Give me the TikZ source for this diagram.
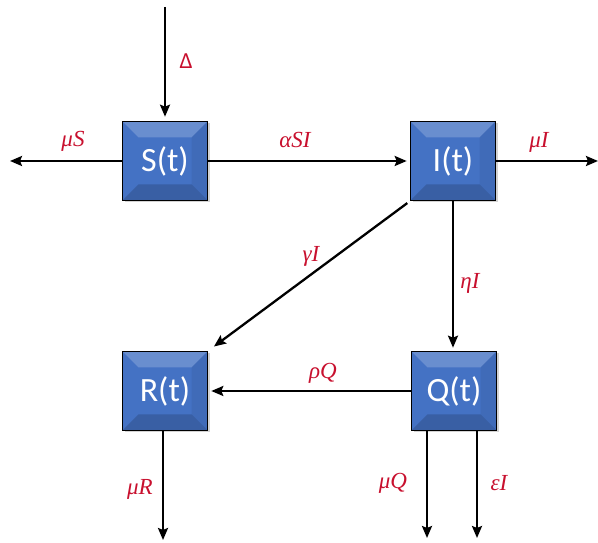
\documentclass[tikz,border=0pt]{standalone}
\usepackage{fontspec}
\usepackage{amsmath, amssymb}
\usetikzlibrary{arrows.meta, shadows}
\newfontfamily\caixafont{Carlito}
\newfontfamily\taxafont{Liberation Serif}
\definecolor{azul}{HTML}{4472C4}
\definecolor{vermelho}{HTML}{C8102E}

\begin{document}
\begin{tikzpicture}[x=1pt, y=1pt]
        \tikzstyle{caixa}=[draw=black, line width=1.6pt, fill=azul, minimum width=85pt, minimum height=79pt,
          text=white, font=\caixafont\fontsize{34}{36}\selectfont, drop shadow={opacity=0.35, shadow xshift=2pt, shadow yshift=-2pt},
          path picture={
            \fill[white, opacity=0.2] (path picture bounding box.north west) -- (path picture bounding box.north east)
              -- ([xshift=-16pt, yshift=-16pt]path picture bounding box.north east) -- ([xshift=16pt, yshift=-16pt]path picture bounding box.north west) -- cycle;
            \fill[black, opacity=0.16] (path picture bounding box.south west) -- (path picture bounding box.south east)
              -- ([xshift=-16pt, yshift=16pt]path picture bounding box.south east) -- ([xshift=16pt, yshift=16pt]path picture bounding box.south west) -- cycle;
            \fill[black, opacity=0.06] (path picture bounding box.north east) -- (path picture bounding box.south east)
              -- ([xshift=-16pt, yshift=16pt]path picture bounding box.south east) -- ([xshift=-16pt, yshift=-16pt]path picture bounding box.north east) -- cycle;
          }]
        \tikzstyle{seta}=[line width=2.3pt, -{Stealth[length=12pt, width=10pt, inset=2pt]}]
        \tikzstyle{taxa}=[text=vermelho, font=\taxafont\itshape\fontsize{23}{25}\selectfont]

        \useasboundingbox (0,0) rectangle (598,543);

        \node[caixa] (S) at (165,382) {S(t)};
        \node[caixa] (I) at (453,382) {I(t)};
        \node[caixa] (R) at (165,152) {R(t)};
        \node[caixa] (Q) at (454,152) {Q(t)};

        \coordinate (entrada) at (165,536);
        \coordinate (saidaS) at (10,382);
        \coordinate (saidaI) at (598,382);
        \coordinate (saidaR) at (163,3);
        \coordinate (saidaQ) at (427,5);
        \coordinate (saidaE) at (477,5);

        \draw[seta, shorten >=4pt] (entrada) -- (S.north);
        \draw[seta] (S.west) -- (saidaS);
        \draw[seta, shorten >=3pt] (S.east) -- (I.west);
        \draw[seta] (I.east) -- (saidaI);
        \draw[seta, shorten <=3pt, shorten >=7pt] (I.south west) -- (R.north east);
        \draw[seta, shorten >=3pt] (I.south) -- (I.south |- Q.north);
        \draw[seta, shorten >=3pt] (Q.west) -- (R.east);
        \draw[seta] (R.south -| saidaR) -- (saidaR);
        \draw[seta] (Q.south -| saidaQ) -- (saidaQ);
        \draw[seta] (Q.south -| saidaE) -- (saidaE);

        \node[taxa] (tDelta) at (186,482) {\caixafont\upshape Δ};
        \node[taxa] (tmuS) at (73,402) {μS};
        \node[taxa] (talfa) at (295,403) {αSI};
        \node[taxa] (tmuI) at (539,401) {μI};
        \node[taxa] (tgama) at (311,287) {γI};
        \node[taxa] (teta) at (470,260) {ηI};
        \node[taxa] (trho) at (323,170) {ρQ};
        \node[taxa] (tmuR) at (140,54) {μR};
        \node[taxa] (tmuQ) at (393,60) {μQ};
        \node[taxa] (teps) at (499,60) {εI};
      \end{tikzpicture}
\end{document}
